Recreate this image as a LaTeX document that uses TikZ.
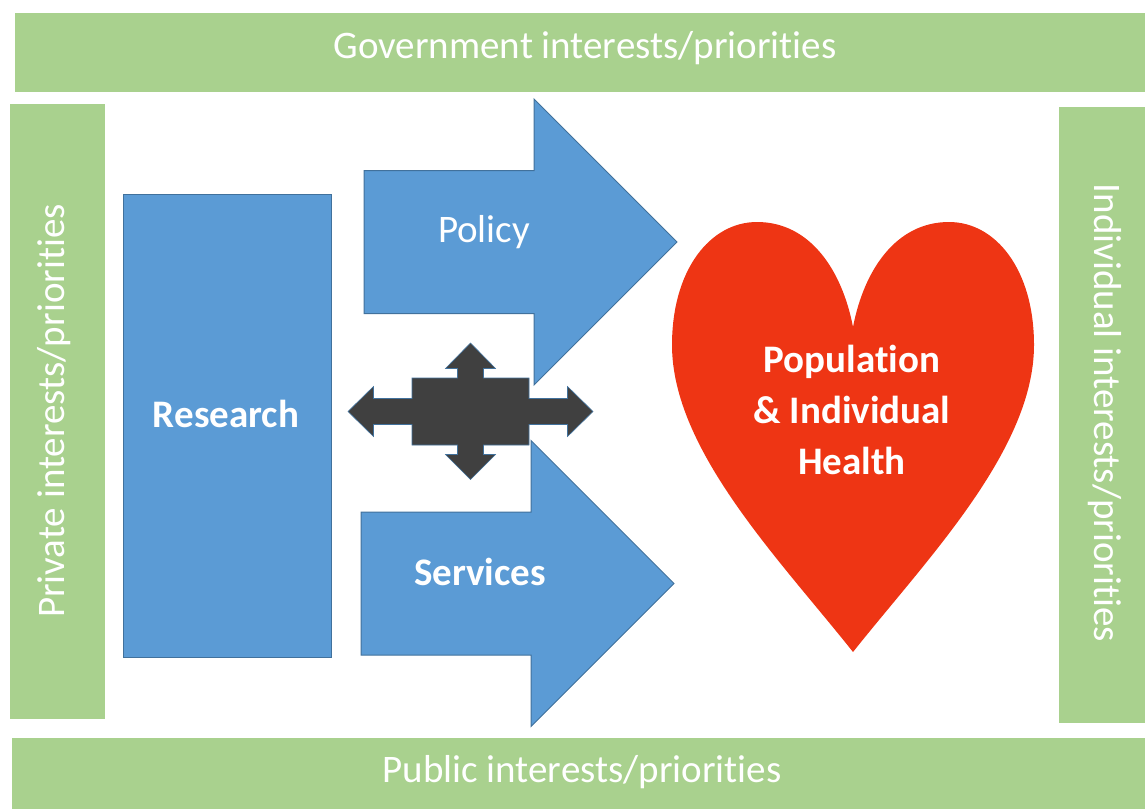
\documentclass[tikz,border=0pt]{standalone}
\usepackage{fontspec}
\setmainfont[Ligatures={NoCommon}]{Carlito}
\definecolor{leaf}{HTML}{A9D18E}
\definecolor{sky}{HTML}{5B9BD5}
\definecolor{skyline}{HTML}{41719C}
\definecolor{coal}{HTML}{404040}
\definecolor{blood}{HTML}{EE3514}
\tikzset{
  band/.style={fill=leaf},
  txt/.style={text=white,font=\fontsize{39}{47}\selectfont,inner sep=0pt},
  btxt/.style={txt,font=\fontsize{39}{51}\selectfont\bfseries,align=center},
  blue/.style={fill=sky,draw=skyline,line width=1pt}
}
\begin{document}
\begin{tikzpicture}[x=1pt,y=-1pt,line join=miter]
\newcommand{\fatarrow}[1]{\draw[shift={#1},blue] (0,-71.5)--(170,-71.5)--(170,-143)--(313,0)--(170,143)--(170,71.5)--(0,71.5)--cycle;}
\useasboundingbox (0,0) rectangle (1145,809);

% frame of interests
\fill[band] (15,13) rectangle (1145,92);
\fill[band] (12,738) rectangle (1145,809);
\fill[band] (10,104) rectangle (105,719);
\fill[band] (1059,107) rectangle (1145,723);
\node[txt] (G) at (585,48) {Government interests/priorities};
\node[txt] (U) at (582,772) {Public interests/priorities};
\node[txt,rotate=90] (P) at (54,411) {Private interests/priorities};
\node[txt,rotate=-90] (I) at (1105,413) {Individual interests/priorities};

% research and the two arrows
\draw[blue] (123,194) rectangle (331,657);
\node[btxt] (R) at (226,414) {Research};
\fatarrow{(364,242)} \node[txt] (A) at (484,232) {Policy};
\fatarrow{(361,583.5)} \node[btxt] (B) at (480,572) {Services};

% exchange cross
\coordinate (X) at (470.5,411.5);
\fill[coal,draw=skyline,line width=0.6pt,shift={(X)}]
  (-58.5,-33.5)--(-13,-33.5)--(-13,-43)--(-25,-43)--(0,-68.5)--(25,-43)--(13,-43)--(13,-33.5)
  --(58.5,-33.5)--(58.5,-13)--(97,-13)--(97,-25)--(122.5,0)--(97,25)--(97,13)--(58.5,13)
  --(58.5,33.5)--(13,33.5)--(13,43)--(25,43)--(0,68)--(-25,43)--(-13,43)--(-13,33.5)
  --(-58.5,33.5)--(-58.5,13)--(-97,13)--(-97,25)--(-122.5,0)--(-97,-25)--(-97,-13)--(-58.5,-13)--cycle;

% heart
\coordinate (T) at (853,652); \coordinate (N) at (853,327);
\fill[blood] (T) .. controls (780,560) and (672,450) .. (672,345)
  .. controls (672,270) and (710,222) .. (757,222)
  .. controls (810,222) and (842,270) .. (N)
  .. controls (864,270) and (896,222) .. (949,222)
  .. controls (996,222) and (1034,270) .. (1034,345)
  .. controls (1034,450) and (926,560) .. (T) -- cycle;
\node[btxt] (H) at (852,410) {Population\\\& Individual\\Health};
\end{tikzpicture}
\end{document}
